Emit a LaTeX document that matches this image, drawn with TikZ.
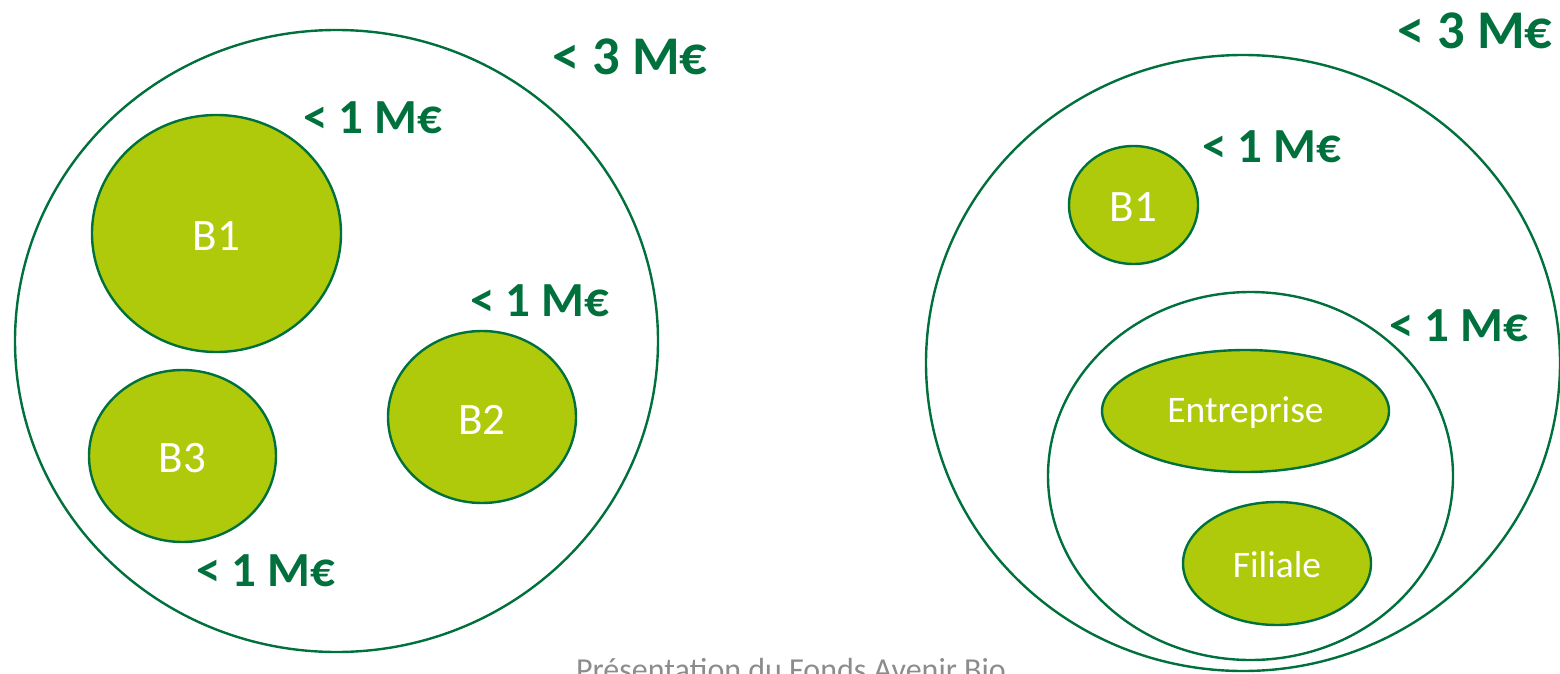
\documentclass[tikz,border=0pt]{standalone}
\usepackage{fontspec}
\setmainfont{Carlito}
\definecolor{dkgreen}{RGB}{0,112,60}
\definecolor{ltgreen}{RGB}{174,202,11}
\definecolor{footgray}{RGB}{140,140,140}
\begin{document}
\begin{tikzpicture}[x=1pt,y=-1pt,
  outer/.style={draw=dkgreen,line width=2.4pt},
  blob/.style={draw=dkgreen,fill=ltgreen,line width=2.4pt},
  inlabel/.style={text=white,font=\fontsize{45}{48}\selectfont},
  inword/.style={text=white,font=\fontsize{37.5}{40}\selectfont},
  lim/.style={text=dkgreen,font=\bfseries\fontsize{49}{52}\selectfont},
  limbig/.style={text=dkgreen,font=\bfseries\fontsize{54.5}{58}\selectfont}]
\useasboundingbox (0,0) rectangle (1560,674);
% left group
\draw[outer] (336.5,341) ellipse [x radius=321.5, y radius=311];
\draw[blob] (216.5,233.5) ellipse [x radius=124.5, y radius=118.5];
\draw[blob] (182.5,456) ellipse [x radius=93.5, y radius=86];
\draw[blob] (482,417) ellipse [x radius=94, y radius=86];
\node[inlabel] (lb1) at (216.5,236) {B1};
\node[inlabel] (lb3) at (182.5,458) {B3};
\node[inlabel] (lb2) at (482,420) {B2};
\node[limbig] (l3) at (630,57) {< 3 M€};
\node[lim] (l1a) at (373,118) {< 1 M€};
\node[lim] (l1b) at (540,301) {< 1 M€};
\node[lim] (l1c) at (266,571) {< 1 M€};
% right group
\draw[outer] (1243,363) ellipse [x radius=317, y radius=308];
\draw[blob] (1133.5,205) ellipse [x radius=64.5, y radius=59];
\draw[outer] (1250.5,476) ellipse [x radius=202.5, y radius=184];
\draw[blob] (1245.5,411) ellipse [x radius=143.5, y radius=61];
\draw[blob] (1277,563.5) ellipse [x radius=94, y radius=61.5];
\node[inlabel] (rb1) at (1133.5,207) {B1};
\node[inword] (rent) at (1245.5,413) {Entreprise};
\node[inword] (rfil) at (1277,565) {Filiale};
\node[limbig] (r3) at (1475,31) {< 3 M€};
\node[lim] (r1a) at (1272,147) {< 1 M€};
\node[lim] (r1b) at (1459,326) {< 1 M€};
% footer
\node[text=footgray,font=\fontsize{32}{35}\selectfont,anchor=north] (foot) at (791,655) {Présentation du Fonds Avenir Bio};
\end{tikzpicture}
\end{document}
